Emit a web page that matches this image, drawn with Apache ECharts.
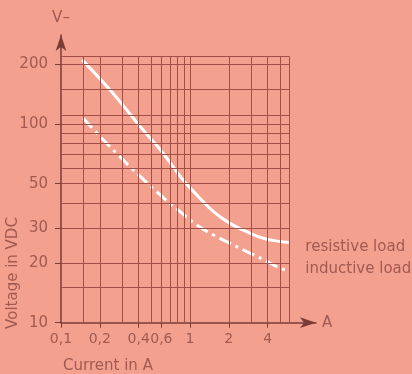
<!DOCTYPE html>
<html>
<head>
<meta charset="utf-8">
<script src="https://cdn.jsdelivr.net/npm/echarts@6/dist/echarts.min.js"></script>
<style>
  html, body { margin: 0; padding: 0; background: #f4a08f; }
  #chart { width: 412px; height: 374px; }
</style>
</head>
<body>
<div id="chart"></div>
<script>
// current in A / voltage in VDC
const resistiveX = [0.146, 0.247, 0.422, 0.604, 0.862, 1.13, 1.52, 2.04, 2.75, 3.7, 4.99, 5.89];
const resistiveY = [210, 145, 95, 72.6, 53.3, 43.9, 36.2, 31.6, 28.7, 26.6, 25.6, 25.3];
const inductiveX = [0.149, 0.201, 0.278, 0.353, 0.568, 0.721, 0.837, 1.13, 1.52, 2.04, 2.75, 3.7, 4.99, 5.89];
const inductiveY = [106.8, 86.3, 69.8, 59.8, 44.8, 39.1, 36.2, 31.0, 27.6, 25.1, 22.8, 20.8, 18.8, 18.2];

const xTicks = [0.1, 0.2, 0.4, 0.6, 1, 2, 4];
const yTicks = [10, 20, 30, 50, 100, 200];
const xGrid = [0.15, 0.2, 0.3, 0.4, 0.5, 0.6, 0.7, 0.8, 0.9, 1, 2, 3, 4, 5, 5.9];
const yGrid = [15, 20, 30, 40, 50, 60, 70, 80, 90, 100, 110, 150, 200, 218];

const xMin = 0.1, xEnd = 5.9, yMin = 10, yEnd = 218;
const font = "DejaVu Sans";
const textColor = "#a05a52";
const lineColor = "#a24e46";
const axisColor = "#7a3c37";

const chart = echarts.init(document.getElementById("chart"));

const gridLines = [];
xGrid.forEach((v) => {
  gridLines.push([{ coord: [v, yMin] }, { coord: [v, yEnd] }]);
});
yGrid.forEach((v) => {
  gridLines.push([{ coord: [xMin, v] }, { coord: [xEnd, v] }]);
});

const option = {
  backgroundColor: "#f4a08f",
  animation: false,
  textStyle: { fontFamily: font, color: textColor },
  grid: { left: 61, right: 96, top: 35, bottom: 51.3 },
  xAxis: {
    type: "log",
    logBase: 10,
    min: xMin,
    max: 9.48,
    name: "A",
    nameLocation: "end",
    nameGap: 6,
    nameTextStyle: { fontSize: 15, color: textColor, fontFamily: font },
    splitLine: { show: false },
    axisLine: {
      show: true,
      symbol: ["none", "arrow"],
      symbolSize: [8, 16],
      lineStyle: { color: axisColor, width: 1.5 },
    },
    axisTick: { show: true, customValues: xTicks, length: 5, lineStyle: { color: axisColor } },
    axisLabel: {
      customValues: xTicks,
      margin: 10,
      fontSize: 14,
      fontFamily: font,
      color: textColor,
      formatter: (v) => String(v).replace(".", ","),
    },
  },
  yAxis: {
    type: "log",
    logBase: 10,
    min: yMin,
    max: 280,
    name: "V\u2013",
    nameLocation: "end",
    nameGap: 9,
    nameTextStyle: { fontSize: 15, color: textColor, align: "center", fontFamily: font },
    splitLine: { show: false },
    axisLine: {
      show: true,
      symbol: ["none", "arrow"],
      symbolSize: [8, 16],
      lineStyle: { color: axisColor, width: 1.5 },
    },
    axisTick: { show: true, customValues: yTicks, length: 6, lineStyle: { color: axisColor } },
    axisLabel: { customValues: yTicks, margin: 13, fontSize: 15, fontFamily: font, color: textColor },
  },
  graphic: [
    {
      type: "text",
      x: 13.5,
      y: 273,
      rotation: Math.PI / 2,
      style: {
        text: "Voltage in VDC",
        fill: textColor,
        font: "15px 'DejaVu Sans'",
        align: "center",
        verticalAlign: "middle",
      },
    },
    {
      type: "text",
      x: 108,
      y: 366,
      style: {
        text: "Current in A",
        fill: textColor,
        font: "15px 'DejaVu Sans'",
        align: "center",
        verticalAlign: "middle",
      },
    },
  ],
  series: [
    {
      name: "grid",
      type: "line",
      data: [],
      z: 1,
      silent: true,
      markLine: {
        silent: true,
        symbol: ["none", "none"],
        label: { show: false },
        lineStyle: { type: "solid", width: 1, color: lineColor },
        emphasis: { disabled: true },
        data: gridLines,
      },
    },
    {
      name: "resistive load",
      type: "line",
      z: 3,
      smooth: 0.4,
      showSymbol: false,
      data: resistiveX.map((x, i) => [x, resistiveY[i]]),
      lineStyle: { color: "#ffffff", width: 3 },
      endLabel: {
        show: true,
        formatter: "{a}",
        distance: 16,
        fontSize: 15,
        fontFamily: font,
        color: textColor,
        offset: [0, 5],
      },
    },
    {
      name: "inductive load",
      type: "line",
      z: 3,
      smooth: 0.4,
      showSymbol: false,
      data: inductiveX.map((x, i) => [x, inductiveY[i]]),
      lineStyle: { color: "#ffffff", width: 3, type: [13, 5, 3, 5] },
      endLabel: {
        show: true,
        formatter: "{a}",
        distance: 16,
        fontSize: 15,
        fontFamily: font,
        color: textColor,
        offset: [0, -2],
      },
    },
  ],
};

chart.setOption(option);
</script>
</body>
</html>
